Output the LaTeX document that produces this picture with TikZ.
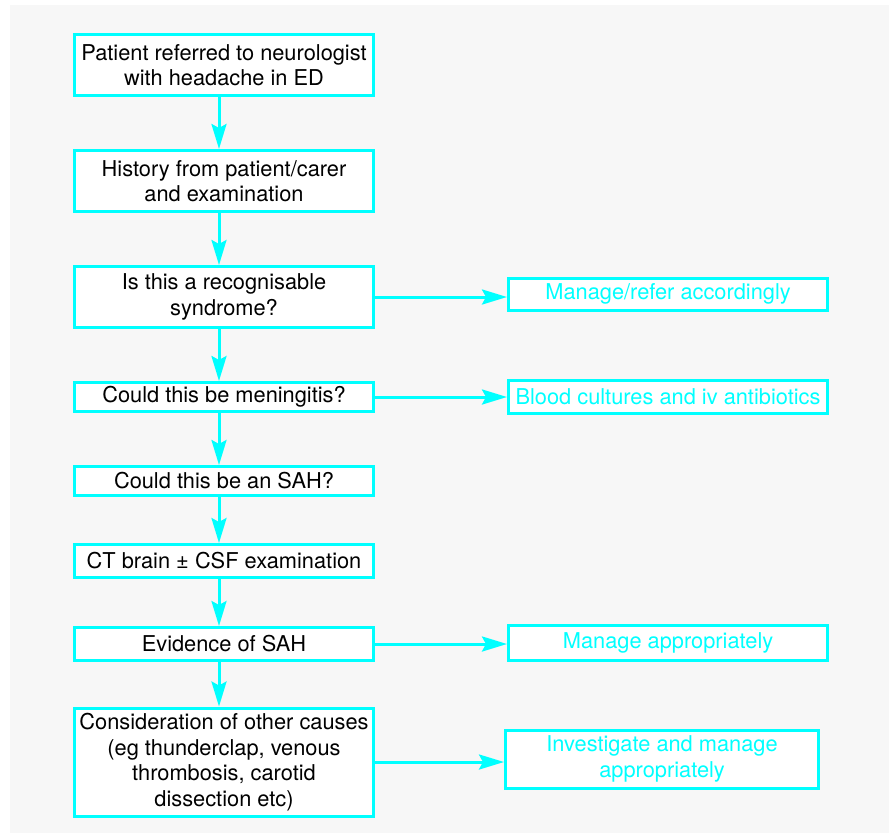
\documentclass[tikz,border=0pt]{standalone}
\usepackage{fontspec}
\setmainfont{TeX Gyre Heros}
\usetikzlibrary{arrows.meta}
\definecolor{bggray}{HTML}{F7F7F7}
\definecolor{aqua}{HTML}{00FFFF}
\begin{document}
\begin{tikzpicture}[x=1pt, y=-1pt,
	every node/.style={font=\fontsize{21.8}{25.5}\selectfont, align=center, inner sep=0pt},
	box/.style={draw=aqua, line width=3pt, fill=white, minimum width=299pt},
	sidebox/.style={box, text=aqua, minimum width=319pt},
	arr/.style={draw=aqua, line width=3pt, -{Stealth[length=25pt, width=15pt, inset=4pt]}}]
\useasboundingbox (0,0) rectangle (893,833);
\fill[bggray] (10,5) rectangle (889,833);
% linke Spalte
\node[box, minimum height=61pt] (l1) at (224,65) {Patient referred to neurologist\\with headache in ED};
\node[box, minimum height=61pt] (l2) at (224,181) {History from patient/carer\\and examination};
\node[box, minimum height=61pt] (l3) at (224,297) {Is this a recognisable\\syndrome?};
\node[box, minimum height=29pt] (l4) at (224,397) {Could this be meningitis?};
\node[box, minimum height=29pt] (l5) at (224,481) {Could this be an SAH?};
\node[box, minimum height=33pt] (l6) at (224,561) {CT brain ± CSF examination};
\node[box, minimum height=33pt] (l7) at (224,644) {Evidence of SAH};
\node[box, minimum height=108pt] (l8) at (224,762) {Consideration of other causes\\(eg thunderclap, venous\\thrombosis, carotid\\dissection etc)};
% rechte Spalte
\node[sidebox, minimum height=32pt] (r1) at (668,294) {Manage/refer accordingly};
\node[sidebox, minimum height=33pt] (r2) at (668,397) {Blood cultures and iv antibiotics};
\node[sidebox, minimum height=35pt] (r3) at (668,643) {Manage appropriately};
\node[sidebox, minimum height=58pt, minimum width=313pt] (r4) at (662,759) {Investigate and manage\\appropriately};
\foreach \a/\b in {l1/l2, l2/l3, l3/l4, l4/l5, l5/l6, l6/l7, l7/l8}
	\draw[arr] ([xshift=-5pt]\a.south) -- ([xshift=-5pt]\b.north);
\foreach \a/\b in {l3/r1, l4/r2, l7/r3, l8/r4}
	\draw[arr] (\a.east) -- (\a.east -| \b.west);
\end{tikzpicture}
\end{document}
